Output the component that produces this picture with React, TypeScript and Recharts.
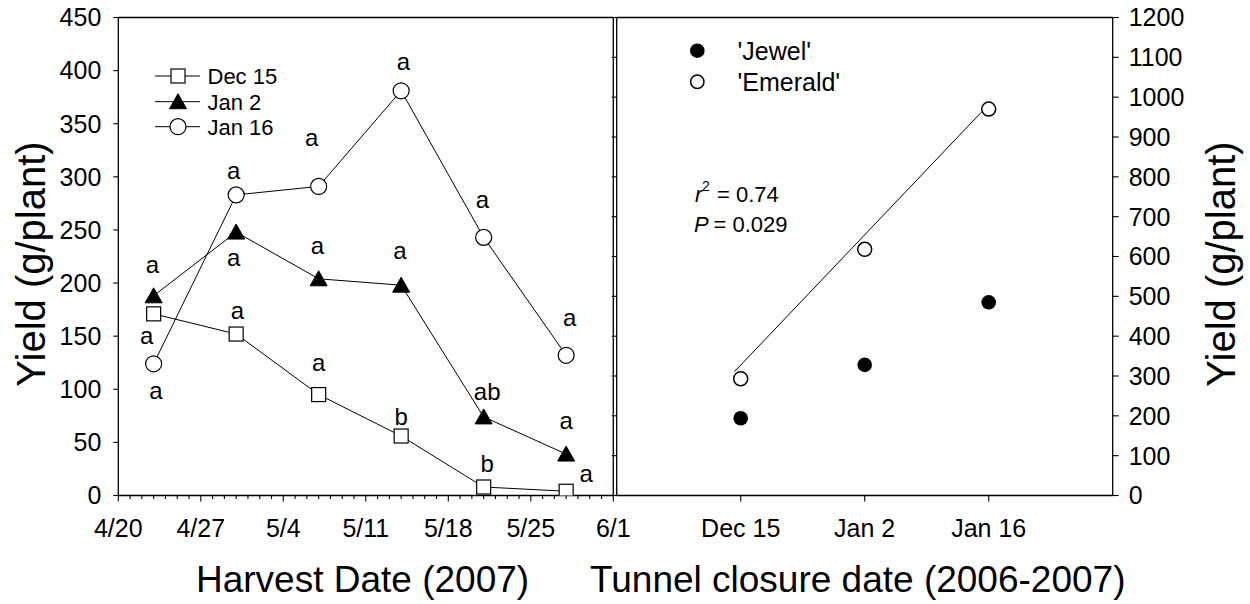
import React from 'react';
import { ComposedChart, Line, Scatter, XAxis, YAxis, ReferenceLine } from 'recharts';

const FONT = '"Liberation Sans", Arial, Helvetica, sans-serif';

// ---------- Left panel data (harvest date, days after 4/20) ----------
const harvestDays = [3, 10, 17, 24, 31, 38];
const dec15 = [171, 152, 95, 56, 8, 4];
const jan2 = [188, 248, 204, 198, 74, 39];
const jan16 = [124, 283, 291, 381, 243, 132];

const dayTicks = [
  0, 1, 2, 3, 4, 5, 6, 7, 8, 9, 10, 11, 12, 13, 14, 15, 16, 17, 18, 19, 20, 21,
  22, 23, 24, 25, 26, 27, 28, 29, 30, 31, 32, 33, 34, 35, 36, 37, 38, 39, 40, 41, 42,
];
const dateTickLabels = ['4/20', '4/27', '5/4', '5/11', '5/18', '5/25', '6/1'];
const leftYTicks = [0, 50, 100, 150, 200, 250, 300, 350, 400, 450];

// significance letters (anchored in data units: day, value)
const letterDays = [24.2, 16.4, 9.8, 9.8, 2.9, 16.9, 23.9, 2.4, 3.2, 10.1, 17.0, 24.0, 30.9, 38.3, 31.3, 38.0, 31.3, 39.7];
const letterValues = [401, 329, 298, 216, 209, 227, 223, 143, 91, 166, 117, 66, 271, 160, 90, 63, 22, 13];
const letterTexts = ['a', 'a', 'a', 'a', 'a', 'a', 'a', 'a', 'a', 'a', 'a', 'b', 'a', 'a', 'ab', 'a', 'b', 'a'];

// ---------- Right panel data (tunnel closure date) ----------
const closureDates = ['Dec 15', 'Jan 2', 'Jan 16'];
const closureIndex = [1, 2, 3];
const jewel = [194, 328, 485];
const emerald = [293, 618, 970];
const fitX = [0.95, 2.94];
const fitY = [311, 962];
const rightYTicks = [0, 100, 200, 300, 400, 500, 600, 700, 800, 900, 1000, 1100, 1200];

const leftRows = harvestDays.map((d, i) => ({ day: d, dec15: dec15[i], jan2: jan2[i], jan16: jan16[i] }));
const letterRows = letterDays.map((d, i) => ({ day: d, value: letterValues[i], text: letterTexts[i] }));
const jewelRows = closureIndex.map((x, i) => ({ x, y: jewel[i] }));
const emeraldRows = closureIndex.map((x, i) => ({ x, y: emerald[i] }));
const fitRows = fitX.map((x, i) => ({ x, y: fitY[i] }));

const AX = { stroke: '#000', strokeWidth: 1.3 };
const TL = { stroke: '#000', strokeWidth: 1.1 };
const TICKFONT = { fontSize: 25, fill: '#000', fontFamily: FONT };

const Square = ({ cx, cy }: any) => (
  <rect x={cx - 7} y={cy - 7} width={14} height={14} fill="#fff" stroke="#000" strokeWidth={1.2} />
);
const Tri = ({ cx, cy }: any) => (
  <polygon points={`${cx},${cy - 8} ${cx - 8.5},${cy + 7} ${cx + 8.5},${cy + 7}`} fill="#000" stroke="#000" strokeWidth={1} />
);
const OpenCircle = ({ cx, cy, r = 8 }: any) => (
  <circle cx={cx} cy={cy} r={r} fill="#fff" stroke="#000" strokeWidth={1.2} />
);

const squareDot = (p: any) => <Square key={`s${p.index}`} cx={p.cx} cy={p.cy} />;
const triDot = (p: any) => <Tri key={`t${p.index}`} cx={p.cx} cy={p.cy} />;
const circDot = (p: any) => <OpenCircle key={`c${p.index}`} cx={p.cx} cy={p.cy} />;

const LetterShape = (p: any) => (
  <text x={p.cx} y={p.cy} textAnchor="middle" fontSize={24} fontFamily={FONT} fill="#000">
    {p.payload.text}
  </text>
);

const DayTick = (p: any) => {
  const { x, y, payload } = p;
  const v = payload.value;
  const major = v % 7 === 0;
  return (
    <g>
      <line x1={x} x2={x} y1={y} y2={y + (major ? 6 : 3.5)} stroke="#000" strokeWidth={1.1} />
      {major && (
        <text x={x} y={y + 41} textAnchor="middle" fontSize={25} fontFamily={FONT} fill="#000">
          {dateTickLabels[v / 7]}
        </text>
      )}
    </g>
  );
};

const LeftChart = () => (
  <ComposedChart
    width={660}
    height={604}
    data={leftRows}
    margin={{ top: 17.5, left: 0, right: 46.7, bottom: 0 }}
  >
    <XAxis
      type="number"
      dataKey="day"
      domain={[0, 42]}
      ticks={dayTicks}
      interval={0}
      height={108.5}
      tickSize={0}
      tickMargin={0}
      tickLine={false}
      axisLine={AX}
      tick={<DayTick />}
      allowDataOverflow
    />
    <YAxis
      type="number"
      domain={[0, 450]}
      ticks={leftYTicks}
      interval={0}
      width={118.3}
      tickSize={5}
      tickMargin={12}
      axisLine={AX}
      tickLine={TL}
      tick={TICKFONT}
      allowDataOverflow
    />
    <ReferenceLine y={450} stroke="#000" strokeWidth={1.3} />
    <ReferenceLine x={42} stroke="#000" strokeWidth={1.3} />
    <Line dataKey="dec15" stroke="#000" strokeWidth={1} dot={squareDot} isAnimationActive={false} />
    <Line dataKey="jan2" stroke="#000" strokeWidth={1} dot={triDot} isAnimationActive={false} />
    <Line dataKey="jan16" stroke="#000" strokeWidth={1} dot={circDot} isAnimationActive={false} />
    <Scatter data={letterRows} dataKey="value" shape={LetterShape} isAnimationActive={false} />
  </ComposedChart>
);

const JewelShape = (p: any) => <circle cx={p.cx} cy={p.cy} r={7.3} fill="#000" />;
const EmeraldShape = (p: any) => <circle cx={p.cx} cy={p.cy} r={7} fill="#fff" stroke="#000" strokeWidth={1.5} />;

const RightChart = () => (
  <ComposedChart width={650} height={604} margin={{ top: 17.5, left: 0, right: 0, bottom: 0 }}>
    <XAxis
      type="number"
      dataKey="x"
      domain={[0, 4]}
      ticks={closureIndex}
      interval={0}
      height={108.5}
      tickSize={6}
      tickMargin={18}
      axisLine={AX}
      tickLine={TL}
      tick={TICKFONT}
      tickFormatter={(v: number) => closureDates[v - 1]}
      allowDataOverflow
    />
    <YAxis
      yAxisId="l"
      type="number"
      domain={[0, 1200]}
      ticks={rightYTicks}
      interval={0}
      width={16.7}
      tickSize={5}
      tickMargin={0}
      axisLine={AX}
      tickLine={TL}
      tickFormatter={() => ''}
      allowDataOverflow
    />
    <YAxis
      yAxisId="r"
      orientation="right"
      type="number"
      domain={[0, 1200]}
      ticks={rightYTicks}
      interval={0}
      width={137.3}
      tickSize={6}
      tickMargin={10}
      axisLine={AX}
      tickLine={TL}
      tick={TICKFONT}
      allowDataOverflow
    />
    <ReferenceLine yAxisId="r" y={1200} stroke="#000" strokeWidth={1.3} />
    <Line yAxisId="r" data={fitRows} dataKey="y" stroke="#000" strokeWidth={1} dot={false} isAnimationActive={false} />
    <Scatter yAxisId="r" data={jewelRows} dataKey="y" shape={JewelShape} isAnimationActive={false} />
    <Scatter yAxisId="r" data={emeraldRows} dataKey="y" shape={EmeraldShape} isAnimationActive={false} />
  </ComposedChart>
);

const Overlay = () => (
  <svg width={1250} height={604} style={{ position: 'absolute', left: 0, top: 0, pointerEvents: 'none' }} fontFamily={FONT}>
    {/* left legend */}
    {[
      { y: 76, label: 'Dec 15', m: <Square cx={178} cy={76} /> },
      { y: 101.7, label: 'Jan 2', m: <Tri cx={178} cy={101.7} /> },
      { y: 126.7, label: 'Jan 16', m: <OpenCircle cx={178} cy={126.7} /> },
    ].map((r) => (
      <g key={r.label}>
        <line x1={155} x2={200} y1={r.y} y2={r.y} stroke="#000" strokeWidth={1} />
        {r.m}
        <text x={207.5} y={r.y + 8} fontSize={22} fill="#000">
          {r.label}
        </text>
      </g>
    ))}
    {/* right legend */}
    <circle cx={697.3} cy={50.7} r={7.3} fill="#000" />
    <text x={737.5} y={60} fontSize={25} fill="#000">'Jewel'</text>
    <circle cx={697.3} cy={81.7} r={6.7} fill="#fff" stroke="#000" strokeWidth={1.5} />
    <text x={737.5} y={90.5} fontSize={25} fill="#000">'Emerald'</text>
    {/* statistics */}
    <text x={695} y={201.7} fontSize={22} fontStyle="italic" fill="#000">r</text>
    <text x={702} y={191} fontSize={14} fill="#000">2</text>
    <text x={717} y={201.7} fontSize={22} fill="#000">= 0.74</text>
    <text x={694} y={231.7} fontSize={22} fontStyle="italic" fill="#000">P</text>
    <text x={713.5} y={231.7} fontSize={22} fill="#000">= 0.029</text>
    {/* axis titles */}
    <text x={31} y={264} fontSize={40} fill="#000" textAnchor="middle" dominantBaseline="central" transform="rotate(-90 31 264)">
      Yield (g/plant)
    </text>
    <text x={1221} y={264} fontSize={40} fill="#000" textAnchor="middle" dominantBaseline="central" transform="rotate(-90 1221 264)">
      Yield (g/plant)
    </text>
    <text x={196} y={592} fontSize={37} fill="#000">Harvest Date (2007)</text>
    <text x={590} y={592} fontSize={37} fill="#000">Tunnel closure date (2006-2007)</text>
  </svg>
);

export default function App() {
  return (
    <div style={{ position: 'absolute', left: 0, top: 0, width: 1250, height: 604, background: '#fff', fontFamily: FONT }}>
      <div style={{ position: 'absolute', left: 0, top: 0 }}>
        <LeftChart />
      </div>
      <div style={{ position: 'absolute', left: 600, top: 0 }}>
        <RightChart />
      </div>
      <Overlay />
    </div>
  );
}
